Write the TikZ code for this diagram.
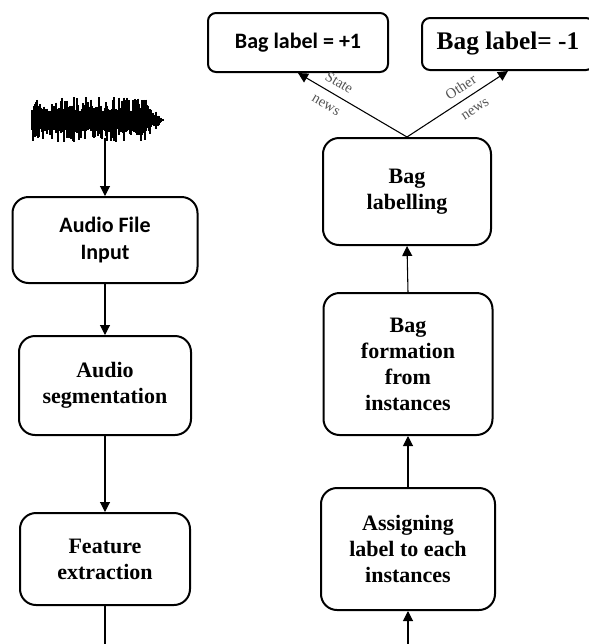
\documentclass[tikz,border=0pt]{standalone}
\usepackage{fontspec}
\setmainfont{Liberation Serif}
\newfontfamily\calibrifont{Carlito}
\usepackage{tikz}
\usetikzlibrary{arrows.meta,positioning}
\definecolor{TagGray}{RGB}{85,85,85}

\begin{document}
\begin{tikzpicture}[
  x=0.75pt, y=-0.75pt,
  stepbox/.style={
    rectangle,
    rounded corners=12pt,
    draw,
    line width=1.5pt,
    align=center,
    font=\bfseries\fontsize{16.5}{19.5}\selectfont
  },
  sansbox/.style={stepbox, font=\calibrifont\bfseries\fontsize{16.5}{20}\selectfont},
  arrow/.style={-{Triangle[length=7.5pt,width=7.5pt]}, line width=0.8pt},
  wire/.style={line width=0.8pt},
  tag/.style={font=\fontsize{11}{19}\selectfont, text=TagGray, sloped, align=center},
  wave/.style={line width=1pt}
]

  \useasboundingbox (0,0) rectangle (589,644);

  % waveform
  \pgfmathsetseed{42}
  \foreach \k in {0,...,131}{
    \pgfmathsetmacro{\env}{\k<112 ? 1 : (132-\k)/20}
    \pgfmathsetmacro{\up}{\env*(9+14*rnd^2)}
    \pgfmathsetmacro{\dn}{\env*(9+13*rnd^2)}
    \draw[wave] (32+\k,120-\up) -- (32+\k,120+\dn);
  }
  \coordinate (wave) at (105,138);

  % left column
  \node[sansbox, minimum width=185*0.75pt, minimum height=86*0.75pt] (input) at (105,240) {Audio File\\Input};
  \node[stepbox, minimum width=172*0.75pt, minimum height=99*0.75pt] (seg) at (105,385.5) {Audio\\segmentation};
  \node[stepbox, minimum width=170*0.75pt, minimum height=92*0.75pt] (feat) at (105,559) {Feature\\extraction};
  \coordinate (leftend) at (105,646);

  % right column
  \node[stepbox, minimum width=174*0.75pt, minimum height=122*0.75pt] (assign) at (408,549) {Assigning\\label to each\\instances};
  \node[stepbox, minimum width=169*0.75pt, minimum height=142*0.75pt] (form) at (408,364) {Bag\\formation\\from\\instances};
  \node[stepbox, minimum width=168*0.75pt, minimum height=107*0.75pt] (bag) at (407,191.5) {Bag\\labelling};
  \coordinate (rightend) at (408,646);

  \node[sansbox, rounded corners=6pt, minimum width=180*0.75pt, minimum height=59*0.75pt] (plus) at (298,42.5) {Bag label = +1};
  \node[stepbox, rounded corners=6pt, font=\bfseries\fontsize{19}{22}\selectfont,
        minimum width=172*0.75pt, minimum height=52*0.75pt] (minus) at (508,44) {Bag label= -1};

  \draw[arrow] (wave) -- (input.north);
  \draw[arrow] (input.south) -- (seg.north);
  \draw[arrow] (seg.south) -- (feat.north);
  \draw[wire]  (feat.south) -- (leftend);

  \draw[arrow] (rightend) -- (assign.south);
  \draw[arrow] (assign.north) -- (form.south);
  \draw[arrow] (form.north) -- (bag.south);

  \draw[arrow] (bag.north) -- (plus.south) node[tag, pos=0.68] {State\\news};
  \draw[arrow] (bag.north) -- (minus.south) node[tag, pos=0.6] {Other\\news};

\end{tikzpicture}
\end{document}
